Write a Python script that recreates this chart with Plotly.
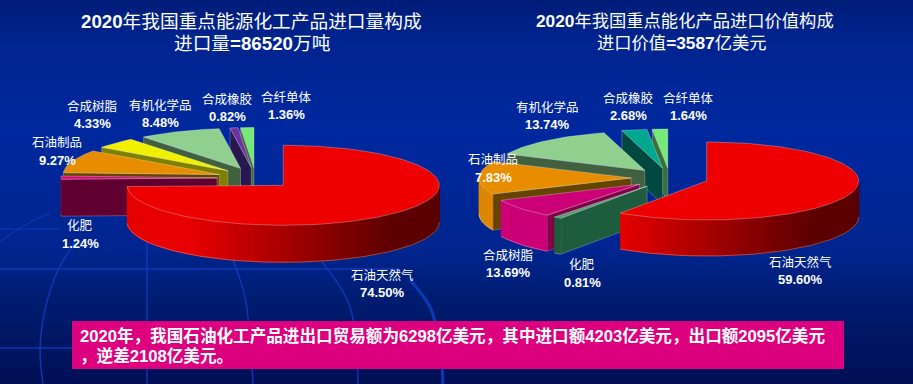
import math
import plotly.graph_objects as go

# ---------- data ----------
left_slice_names = ["石油天然气", "化肥", "石油制品", "合成树脂", "有机化学品", "合成橡胶", "合纤单体"]
left_slice_values = [74.50, 1.24, 9.27, 4.33, 8.48, 0.82, 1.36]

# wedge order and sizes as drawn on the right (the two printed labels 合成树脂 / 石油制品
# carry each other's percentages in the source picture)
right_slice_names = ["石油天然气", "化肥", "合成树脂", "石油制品", "有机化学品", "合成橡胶", "合纤单体"]
right_slice_values = [59.60, 0.81, 7.83, 13.69, 13.74, 2.68, 1.64]
right_label_values = [59.60, 0.81, 13.69, 7.83, 13.74, 2.68, 1.64]

left_title = ["<b>2020</b>年我国重点能源化工产品进口量构成", "进口量<b>=86520</b>万吨"]
right_title = ["<b>2020</b>年我国重点能化产品进口价值构成", "进口价值<b>=3587</b>亿美元"]
note_lines = ["<b>2020年，我国石油化工产品进出口贸易额为6298亿美元，其中进口额4203亿美元，出口额2095亿美元</b>",
              "<b>，逆差2108亿美元。</b>"]

# ---------- styles ----------
FONT = "Liberation Sans, Arial, Noto Sans CJK SC"
W, H = 913, 384
# (top colour, wall colour, dark wall colour)
left_styles = {
    "石油天然气": ("#ee0000", (232, 0, 0), (92, 0, 0)),
    "化肥": ("#d9007f", (96, 0, 48), (96, 0, 48)),
    "石油制品": ("#e88c00", (224, 136, 0), (100, 68, 0)),
    "合成树脂": ("#f0f000", (128, 128, 0), (128, 128, 0)),
    "有机化学品": ("#8fd08f", (64, 96, 64), (64, 96, 64)),
    "合成橡胶": ("#7030a0", (40, 24, 80), (40, 24, 80)),
    "合纤单体": ("#78e878", (60, 110, 60), (60, 110, 60)),
}
right_styles = dict(left_styles)
right_styles.update({
    "化肥": ("#50a070", (30, 92, 62), (30, 92, 62)),
    "合成树脂": ("#cc0077", (204, 0, 119), (128, 0, 74)),
    "合成橡胶": ("#00a890", (0, 72, 64), (0, 72, 64)),
})
left_geom = dict(cx=255.6, cy=178.0, rx=156, ry=40, depth=37, px=38.5, py=10.5)
right_geom = dict(cx=669.8, cy=178.0, rx=152, ry=39, depth=36, px=38.6, py=10.0)

left_label_pos = {"石油天然气": (382, 275), "化肥": (80, 226), "石油制品": (57, 143), "合成树脂": (92, 106),
                  "有机化学品": (160, 105), "合成橡胶": (227, 99), "合纤单体": (286, 97)}
right_label_pos = {"石油天然气": (800, 262), "化肥": (582, 265), "石油制品": (493, 160), "合成树脂": (508, 255),
                   "有机化学品": (547, 107), "合成橡胶": (628, 98), "合纤单体": (688, 98)}

fig = go.Figure()


def poly(xs, ys, fill, line=None, width=0.6, closed=True):
    if closed:
        fig.add_trace(go.Scatter(x=xs, y=ys, mode="lines", fill="toself", fillcolor=fill,
                                 line=dict(color=line or fill, width=width),
                                 hoverinfo="skip", showlegend=False))
    else:
        fig.add_trace(go.Scatter(x=xs, y=ys, mode="lines", line=dict(color=line, width=width),
                                 hoverinfo="skip", showlegend=False))


def rgb(c):
    return "rgb(%d,%d,%d)" % tuple(round(v) for v in c)


EDGE = "rgba(255,255,255,0.42)"


def draw_pie(values, names, styles, g):
    total = sum(values)
    spans, cum = [], 0.0
    for v in values:
        spans.append((cum / total * 360, (cum + v) / total * 360))
        cum += v
    for i in range(len(values) - 1, -1, -1):
        a, b = spans[i]
        mid = math.radians((a + b) / 2)
        cx = g["cx"] + g["px"] * math.sin(mid)
        cy = g["cy"] - g["py"] * math.cos(mid)
        top, wall, dark = styles[names[i]]
        d = g["depth"]

        def pt(deg):
            r = math.radians(deg)
            return cx + g["rx"] * math.sin(r), cy - g["ry"] * math.cos(r)

        # radial faces
        if math.sin(math.radians(a)) < -1e-6:
            x, y = pt(a)
            poly([cx, x, x, cx, cx], [cy, y, y + d, cy + d, cy], rgb(dark), EDGE)
        if math.sin(math.radians(b)) > 1e-6:
            x, y = pt(b)
            poly([cx, x, x, cx, cx], [cy, y, y + d, cy + d, cy], rgb(dark), EDGE)
        # outer wall, shaded left to right
        lo, hi = max(a, 90), min(b, 270)
        if hi > lo:
            n = max(1, int((hi - lo) / 2.5))
            for k in range(n):
                t0 = lo + (hi - lo) * k / n
                t1 = lo + (hi - lo) * (k + 1) / n
                x0, y0 = pt(t0)
                x1, y1 = pt(t1)
                s = math.sin(math.radians((t0 + t1) / 2))
                f = max(0.0, min(1.0, (s + 0.6) / 1.3))
                c = [wall[j] + (dark[j] - wall[j]) * f for j in range(3)]
                poly([x0, x1, x1, x0, x0], [y0, y1, y1 + d, y0 + d, y0], rgb(c), None, 0.8)
            arc = [pt(lo + (hi - lo) * k / n) for k in range(n + 1)]
            poly([p[0] for p in arc], [p[1] + d for p in arc], None, EDGE, 0.7, closed=False)
        # top face
        n = max(2, int((b - a) / 2))
        arc = [pt(a + (b - a) * k / n) for k in range(n + 1)]
        poly([cx] + [p[0] for p in arc] + [cx], [cy] + [p[1] for p in arc] + [cy], top, EDGE, 0.7)


# ---------- background ----------
bg_stops = [(0, (0, 28, 120)), (40, (0, 36, 143)), (130, (0, 40, 159)), (250, (0, 37, 143)),
            (300, (0, 28, 112)), (384, (0, 15, 85))]


def bg_color(y):
    for (y0, c0), (y1, c1) in zip(bg_stops, bg_stops[1:]):
        if y <= y1:
            f = (y - y0) / (y1 - y0)
            return rgb([c0[j] + (c1[j] - c0[j]) * f for j in range(3)])
    return rgb(bg_stops[-1][1])


shapes = []
for y in range(0, H, 2):
    shapes.append(dict(type="rect", layer="below", xref="x", yref="y", x0=0, x1=W, y0=y, y1=y + 2,
                       fillcolor=bg_color(y + 1), line_width=0))

GLOBE = "rgba(16,60,190,0.9)"
globe_lines = [
    ([0, 400], [269, 269], 1.4), ([0, 72], [348, 348], 1.4), ([0, 60], [229, 229], 1.0),
    ([147, 147], [225, 384], 1.4),
    ([77, 58, 45, 40, 43], [240, 270, 310, 350, 384], 1.4),
    ([0, 25, 50], [242, 225, 213], 1.0),
    ([233, 245, 250, 253], [260, 297, 340, 384], 1.4),
    ([322, 350, 358], [262, 307, 384], 1.4),
    ([410, 430, 440, 443], [280, 307, 345, 384], 3.0),
]
for xs, ys, w in globe_lines:
    fig.add_trace(go.Scatter(x=xs, y=ys, mode="lines", line=dict(color=GLOBE, width=w, shape="spline"),
                             hoverinfo="skip", showlegend=False))

draw_pie(left_slice_values, left_slice_names, left_styles, left_geom)
draw_pie(right_slice_values, right_slice_names, right_styles, right_geom)

# ---------- note box ----------
shapes.append(dict(type="rect", layer="above", xref="x", yref="y", x0=72, x1=844, y0=321, y1=369,
                   fillcolor="#dc007f", line_width=0))

# ---------- text ----------
ann = []


def text(x, y, s, size, anchor="center"):
    ann.append(dict(x=x, y=y, xref="x", yref="y", text=s, showarrow=False, xanchor=anchor, yanchor="middle",
                    font=dict(family=FONT, size=size, color="white")))


text(251.5, 21, left_title[0], 18.7)
text(252, 43, left_title[1], 18.7)
text(685, 21, right_title[0], 17.3)
text(682, 43, right_title[1], 17.3)

for names, vals, pos in [(left_slice_names, left_slice_values, left_label_pos),
                         (right_slice_names, right_label_values, right_label_pos)]:
    for n, v in zip(names, vals):
        x, y = pos[n]
        text(x, y, n, 12.5)
        text(x, y + 17, "<b>%.2f%%</b>" % v, 13)

text(77.5, 336, note_lines[0], 16.6, "left")
text(77.5, 356, note_lines[1], 16.6, "left")

fig.update_layout(
    width=W, height=H, autosize=False, margin=dict(l=0, r=0, t=0, b=0),
    paper_bgcolor="#00248f", plot_bgcolor="rgba(0,0,0,0)",
    xaxis=dict(range=[0, W], visible=False, fixedrange=True),
    yaxis=dict(range=[H, 0], visible=False, fixedrange=True),
    shapes=shapes, annotations=ann, showlegend=False,
)
fig.write_html("out.html", config={"displayModeBar": False},
               post_script="document.body.style.margin='0';document.body.style.overflow='hidden';")
